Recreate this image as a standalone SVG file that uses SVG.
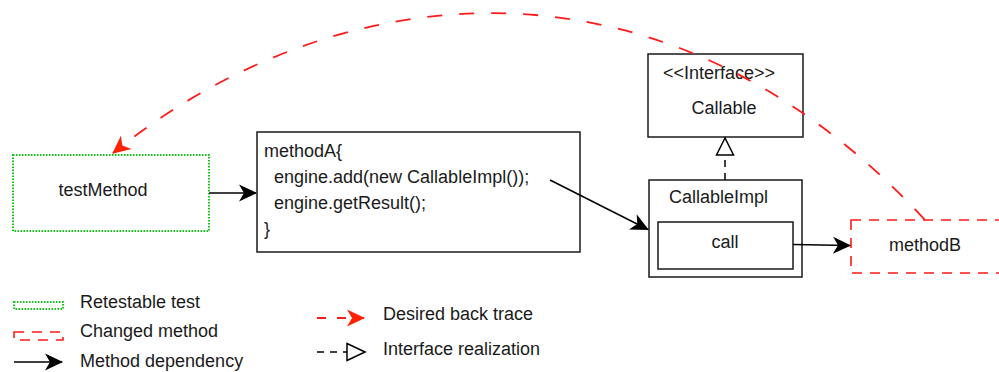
<svg xmlns="http://www.w3.org/2000/svg" width="999" height="372" viewBox="0 0 999 372">
<defs>
<style>
text{font-family:"Liberation Sans",Arial,Helvetica,sans-serif;font-size:18px;fill:#1a1a1a}
.box{fill:#fff;stroke:#1a1a1a;stroke-width:1.5}
.retest{fill:none;stroke:#11c811;stroke-width:2;stroke-dasharray:1.5 1.5}
.changed{fill:none;stroke:#ff1a1a;stroke-width:1.6;stroke-dasharray:10 8}
.dep{fill:none;stroke:#000;stroke-width:1.5}
.trace{fill:none;stroke:#ff1a1a;stroke-width:1.8;stroke-dasharray:15 17}
.real{fill:none;stroke:#000;stroke-width:1.5;stroke-dasharray:7 6}
.mid{text-anchor:middle}
</style>
<marker id="ab" viewBox="-20 -10 22 20" markerWidth="22" markerHeight="20" refX="-1" refY="0" orient="auto" markerUnits="userSpaceOnUse">
<path d="M0,0 L-18,-8.5 L-13,0 L-18,8.5 Z" fill="#000"/>
</marker>
<marker id="ar" viewBox="-20 -10 22 20" markerWidth="22" markerHeight="20" refX="-1" refY="0" orient="auto" markerUnits="userSpaceOnUse">
<path d="M0,0 L-18,-8.5 L-13,0 L-18,8.5 Z" fill="#ff2200"/>
</marker>
</defs>
<rect width="999" height="372" fill="#fff"/>

<g id="testMethod">
<rect class="retest" x="13" y="155" width="196" height="76"/>
<text class="mid" x="103" y="196">testMethod</text>
</g>

<g id="methodA">
<rect class="box" x="257" y="132" width="323" height="120"/>
<text x="264" y="157">methodA{</text>
<text x="274" y="183">engine.add(new CallableImpl());</text>
<text x="274" y="209">engine.getResult();</text>
<text x="264" y="235">}</text>
</g>

<g id="callable">
<rect class="box" x="648" y="54" width="155" height="83"/>
<text x="663" y="79">&lt;&lt;Interface&gt;&gt;</text>
<text class="mid" x="724" y="114">Callable</text>
</g>

<g id="callableImpl">
<rect class="box" x="649" y="180" width="153" height="97"/>
<text x="669" y="203">CallableImpl</text>
</g>

<g id="call">
<rect class="box" x="658" y="222" width="135" height="47"/>
<text class="mid" x="725" y="248">call</text>
</g>

<g id="methodB">
<rect class="changed" x="851" y="220" width="150" height="53"/>
<text class="mid" x="925" y="251">methodB</text>
</g>

<g id="connectors">
<path class="dep" d="M209,193 L256,193" marker-end="url(#ab)"/>
<path class="dep" d="M550,180 L648,229.5" marker-end="url(#ab)"/>
<path class="dep" d="M793,244.5 L850,245.5" marker-end="url(#ab)"/>
<path class="real" d="M725,180 L725,155"/>
<path d="M725,138 L716.5,155 L733.5,155 Z" fill="#fff" stroke="#000" stroke-width="1.5"/>
<path class="trace" d="M925,220 C662,-65 333,-24 113,153" marker-end="url(#ar)"/>
</g>

<g id="legend">
<rect class="retest" x="14" y="302" width="49" height="7"/>
<text x="80" y="308">Retestable test</text>
<rect class="changed" x="14" y="332" width="49" height="8"/>
<text x="80" y="337">Changed method</text>
<path class="dep" d="M14,362 L62,362" marker-end="url(#ab)"/>
<text x="80" y="367">Method dependency</text>
<path class="trace" style="stroke-dasharray:9 11" d="M317,318 L364,318" marker-end="url(#ar)"/>
<text x="383" y="320">Desired back trace</text>
<path class="real" d="M317,352 L347,352"/>
<path d="M365,352 L347,343.5 L347,360.5 Z" fill="#fff" stroke="#000" stroke-width="1.5"/>
<text x="383" y="355">Interface realization</text>
</g>
</svg>
